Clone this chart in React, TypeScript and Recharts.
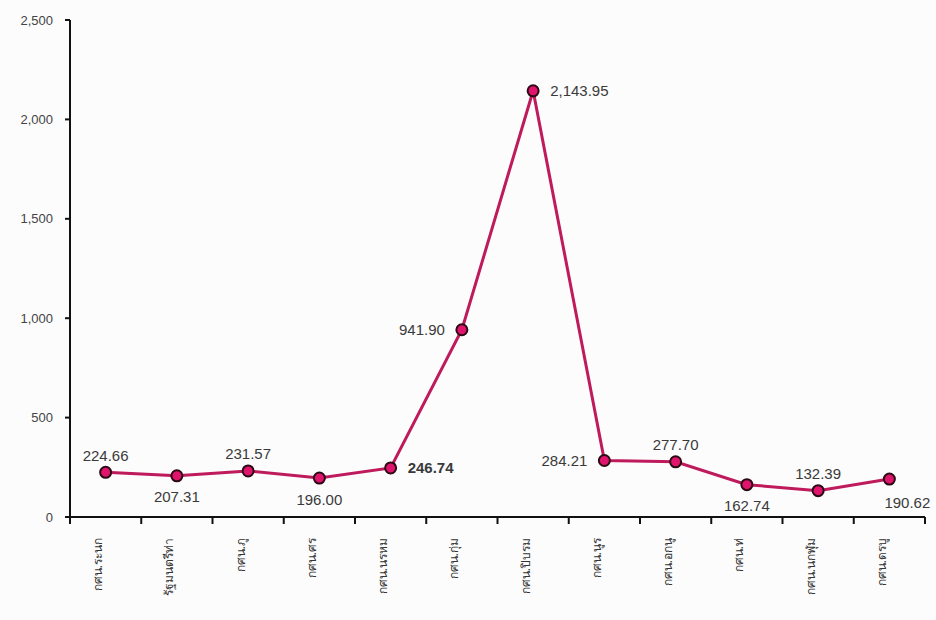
import React from 'react';
import { LineChart, Line, XAxis, YAxis, LabelList } from 'recharts';

const categories = [
  'กศน.ระนก',
  'รัฐมนตรีท่า',
  'กศน.ภู',
  'กศน.ศร',
  'กศน.นรหม',
  'กศน.กุ่ม',
  'กศน.ปิบรม',
  'กศน.นูร',
  'กศน.อกนู',
  'กศน.ท่',
  'กศน.นกฬุม',
  'กศน.ดรบู',
];
const values = [224.66, 207.31, 231.57, 196.0, 246.74, 941.9, 2143.95, 284.21, 277.7, 162.74, 132.39, 190.62];
const yTicks = [0, 500, 1000, 1500, 2000, 2500];

const labelPlacement = ['top', 'bottom', 'top', 'bottom', 'right', 'left', 'right', 'left', 'top', 'bottom', 'top', 'bottom'];

const data = categories.map((c, i) => ({ name: c, value: values[i] }));

const W = 936;
const H = 620;
const PLOT_LEFT = 70;
const PLOT_RIGHT = 925;
const HALF_BAND = (PLOT_RIGHT - PLOT_LEFT) / categories.length / 2;

const fmt = (v: number) => v.toLocaleString('en-US', { minimumFractionDigits: 2, maximumFractionDigits: 2 });

const XTick = (props: any) => {
  const { x, y, payload, index } = props;
  return (
    <g>
      <line x1={x - HALF_BAND} x2={x - HALF_BAND} y1={y} y2={y + 7} stroke="#111" strokeWidth={2} />
      {index === categories.length - 1 && (
        <line x1={x + HALF_BAND} x2={x + HALF_BAND} y1={y} y2={y + 7} stroke="#111" strokeWidth={2} />
      )}
      <text
        x={0}
        y={0}
        transform={`translate(${x - 8}, ${y + 21}) rotate(-90)`}
        textAnchor="end"
        dominantBaseline="central"
        fontSize={12}
        fill="#333"
        fontFamily="'Noto Sans', 'DejaVu Sans', 'Liberation Sans', sans-serif"
      >
        {payload.value}
      </text>
    </g>
  );
};

const DataLabel = (props: any) => {
  const { x, y, value, index } = props;
  const pos = labelPlacement[index];
  let tx = x;
  let ty = y;
  let anchor: 'start' | 'middle' | 'end' = 'middle';
  if (pos === 'top') ty = y - 17;
  else if (pos === 'bottom') ty = y + 21;
  else if (pos === 'right') { tx = x + 17; anchor = 'start'; }
  else if (pos === 'left') { tx = x - 17; anchor = 'end'; }
  if (index === categories.length - 1) { tx = x + 18; ty = y + 23; }
  return (
    <text
      x={tx}
      y={ty}
      textAnchor={anchor}
      dominantBaseline="central"
      fontSize={15}
      fontWeight={index === 4 ? 'bold' : 'normal'}
      fill="#3a3a3a"
      fontFamily="'Liberation Sans', Arial, sans-serif"
    >
      {fmt(value)}
    </text>
  );
};

export default function App() {
  return (
    <div style={{ position: 'absolute', left: 0, top: 0, width: W, height: H, background: '#fcfcfc' }}>
      <LineChart width={W} height={H} data={data} margin={{ top: 20, right: W - PLOT_RIGHT, bottom: 0, left: 0 }}>
        <XAxis
          dataKey="name"
          height={103}
          interval={0}
          padding={{ left: HALF_BAND, right: HALF_BAND }}
          axisLine={{ stroke: '#111', strokeWidth: 2 }}
          tickLine={false}
          tickSize={0}
          tickMargin={0}
          tick={<XTick />}
        />
        <YAxis
          width={PLOT_LEFT}
          domain={[0, 2500]}
          ticks={yTicks}
          interval={0}
          axisLine={{ stroke: '#111', strokeWidth: 2 }}
          tickLine={{ stroke: '#111', strokeWidth: 2 }}
          tickSize={5}
          tickMargin={12}
          tickFormatter={(v: number) => v.toLocaleString('en-US')}
          tick={{ fontSize: 13, fill: '#444', fontFamily: "'Liberation Sans', Arial, sans-serif" }}
        />
        <Line
          type="linear"
          dataKey="value"
          stroke="#BE1A5C"
          strokeWidth={3}
          isAnimationActive={false}
          dot={{ r: 5.5, fill: '#E0146C', stroke: '#2b0a14', strokeWidth: 2 }}
          activeDot={false}
        >
          <LabelList dataKey="value" content={<DataLabel />} />
        </Line>
      </LineChart>
    </div>
  );
}
